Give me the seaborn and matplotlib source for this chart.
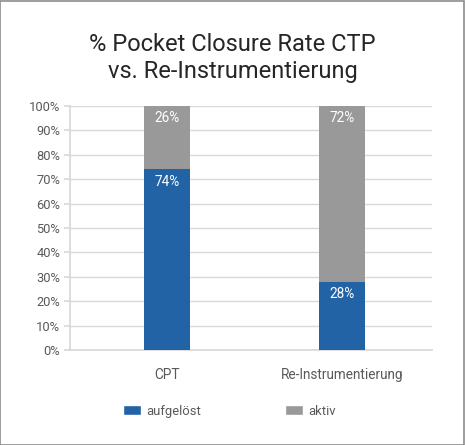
import matplotlib
matplotlib.use("Agg")
import matplotlib.pyplot as plt
import seaborn as sns
import pandas as pd
from matplotlib.patches import Patch

categories = ["CPT", "Re-Instrumentierung"]
aufgeloest = [74, 28]
aktiv = [26, 72]
series_names = ["aufgelöst", "aktiv"]
yticks = [0, 10, 20, 30, 40, 50, 60, 70, 80, 90, 100]
title = "% Pocket Closure Rate CTP\nvs. Re-Instrumentierung"

BLUE = "#2263a6"
GRAY = "#999999"
TXT = "#595959"

sns.set_theme(style="white")
plt.rcParams['font.family'] = ['Roboto', 'DejaVu Sans']

df = pd.DataFrame({"cat": categories, "blue": aufgeloest, "gray": aktiv})
df["total"] = df["blue"] + df["gray"]

fig = plt.figure(figsize=(4.65, 4.45), dpi=100)
fig.patch.set_facecolor("white")
ax = fig.add_axes([0.1505, 0.2135, 0.7785, 0.5483])

sns.barplot(data=df, x="cat", y="total", color=GRAY, width=0.26, ax=ax,
            saturation=1, zorder=3, linewidth=0)
sns.barplot(data=df, x="cat", y="blue", color=BLUE, width=0.26, ax=ax,
            saturation=1, zorder=4, linewidth=0)

for i, (b, g) in enumerate(zip(aufgeloest, aktiv)):
    ax.text(i, b + g - 2.2, f"{g}%", ha="center", va="top", color="white", fontsize=9.8, zorder=5)
    ax.text(i, b - 2.2, f"{b}%", ha="center", va="top", color="white", fontsize=9.8, zorder=5)

ax.set_ylim(0, 100)
ax.set_xlim(-0.555, 1.515)
ax.set_yticks(yticks)
ax.set_yticklabels([f"{t}%" for t in yticks])
ax.set_xlabel("")
ax.set_ylabel("")
ax.grid(axis="y", color="#d9d9d9", linewidth=1, zorder=0)
for s in ["top", "right"]:
    ax.spines[s].set_visible(False)
ax.spines["left"].set_color("#d9d9d9")
ax.spines["bottom"].set_color("#d9d9d9")
ax.tick_params(axis="y", length=4, color="#d9d9d9", labelsize=9.3, labelcolor=TXT, pad=3, left=True)
ax.tick_params(axis="x", length=0, labelsize=9.8, labelcolor=TXT, pad=13)

fig.suptitle(title, x=0.5, y=0.925, fontsize=17, color="#262626", linespacing=1.22)

handles = [Patch(facecolor=BLUE), Patch(facecolor=GRAY)]
fig.legend(handles, series_names, loc="center", bbox_to_anchor=(0.493, 0.076), ncol=2,
           frameon=False, fontsize=9.4, labelcolor=TXT, handlelength=1.4, handleheight=0.75,
           handletextpad=0.4, columnspacing=6.4)

border = plt.Rectangle((0.001, 0.001), 0.997, 0.997, transform=fig.transFigure,
                       fill=False, edgecolor="#8c8c8c", linewidth=1.2)
fig.patches.append(border)

fig.savefig("out.png", dpi=100)
